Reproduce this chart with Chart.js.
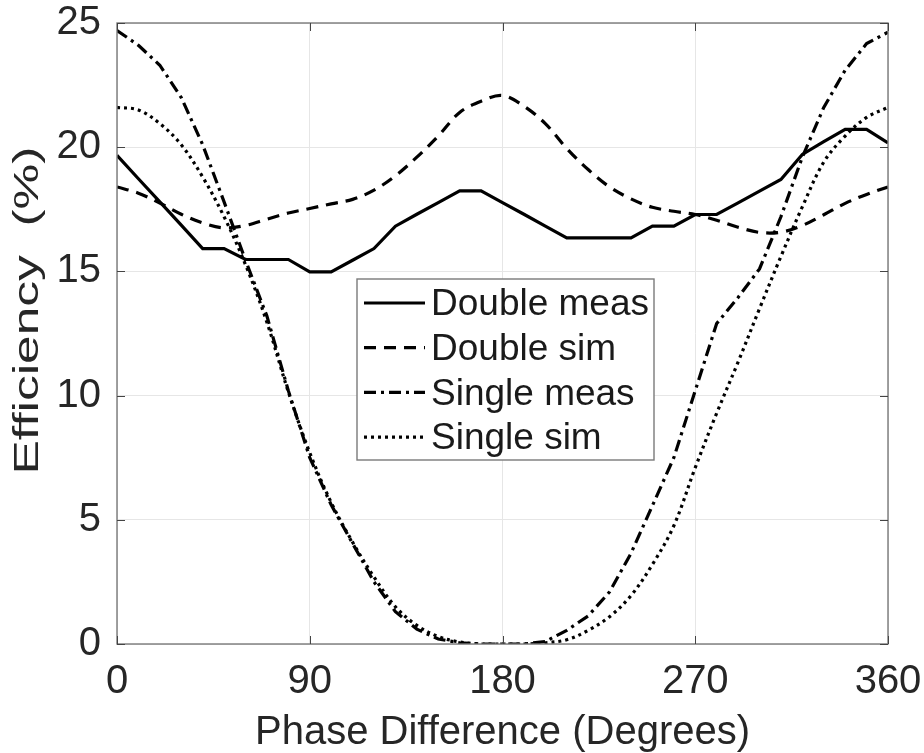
<!DOCTYPE html>
<html>
<head>
<meta charset="utf-8">
<script src="https://cdn.jsdelivr.net/npm/chart.js@4/dist/chart.umd.min.js"></script>
<style>
  html, body { margin: 0; padding: 0; background: #ffffff; }
  #wrap { width: 924px; height: 753px; }
</style>
</head>
<body>
<div id="wrap"><canvas id="c" width="924" height="753"></canvas></div>
<script>
const phase = [0,10,20,30,40,50,60,70,80,90,100,110,120,130,140,150,160,170,180,190,200,210,220,230,240,250,260,270,280,290,300,310,320,330,340,350,360];
const doubleMeas = [19.67,18.73,17.8,16.86,15.92,15.92,15.48,15.48,15.48,14.98,14.98,15.45,15.92,16.82,17.3,17.77,18.24,18.24,17.77,17.3,16.82,16.35,16.35,16.35,16.35,16.82,16.82,17.29,17.29,17.76,18.23,18.7,19.71,20.22,20.72,20.72,20.17];
const doubleSim = [18.4,18.15,17.75,17.3,16.95,16.75,16.85,17.1,17.35,17.53,17.72,17.9,18.27,18.85,19.6,20.45,21.4,21.85,22.08,21.65,20.95,19.95,19.1,18.4,17.92,17.58,17.42,17.29,17.06,16.78,16.57,16.58,16.85,17.28,17.74,18.1,18.4];
const singleMeas = [24.7,24.1,23.3,22.0,20.1,17.8,15.45,13.2,10.2,7.5,5.6,4.05,2.5,1.3,0.6,0.2,0.05,0,0,0,0.1,0.55,1.13,2.1,3.65,5.57,7.5,10.2,12.9,13.95,15.1,17.2,19.6,21.6,23.1,24.17,24.63];
const singleSim = [21.6,21.5,20.95,20.1,18.8,17.2,15.27,12.95,10.15,7.7,5.7,4.1,2.7,1.5,0.75,0.3,0.08,0,0,0,0.05,0.17,0.55,1.1,1.95,3.2,4.76,7.1,9.29,11.35,13.5,15.6,17.6,19.4,20.45,21.2,21.6];
const seriesNames = ["Double meas","Double sim","Single meas","Single sim"];
const xTicks = [0,90,180,270,360];
const yTicks = [0,5,10,15,20,25];
const xTitle = "Phase Difference (Degrees)";
const yTitle = "Efficiency  (%)";

const FONT = '"Liberation Sans", Arial, Helvetica, sans-serif';
const TXT = '#262626';

function pts(ys){ return phase.map((x,i)=>({x:x,y:ys[i]})); }

const styles = [
  {dash: [], tension: 0},
  {dash: [12, 8], tension: 0.35},
  {dash: [12, 5, 3, 5], tension: 0},
  {dash: [3, 4], tension: 0.35}
];
const allSeries = [doubleMeas, doubleSim, singleMeas, singleSim];

const datasets = allSeries.map((s,i)=>({
  label: seriesNames[i],
  data: pts(s),
  borderColor: '#000000',
  backgroundColor: '#000000',
  borderWidth: 3.2,
  borderDash: styles[i].dash,
  tension: styles[i].tension,
  pointRadius: 0,
  fill: false,
  order: 4 - i
}));

const framePlugin = {
  id: 'frame',
  afterDatasetsDraw(chart){
    const ctx = chart.ctx, a = chart.chartArea;
    const xs = chart.scales.x, ys = chart.scales.y;
    ctx.save();
    ctx.strokeStyle = '#7a7a7a';
    ctx.lineWidth = 1.4;
    ctx.setLineDash([]);
    ctx.strokeRect(a.left, a.top, a.right - a.left, a.bottom - a.top);
    ctx.strokeStyle = '#444444';
    ctx.lineWidth = 1;
    const tl = 8;
    xTicks.forEach(v=>{
      const px = Math.round(xs.getPixelForValue(v)) + 0.5;
      ctx.beginPath();
      ctx.moveTo(px, a.bottom); ctx.lineTo(px, a.bottom - tl);
      ctx.moveTo(px, a.top); ctx.lineTo(px, a.top + tl);
      ctx.stroke();
    });
    yTicks.forEach(v=>{
      const py = Math.round(ys.getPixelForValue(v)) + 0.5;
      ctx.beginPath();
      ctx.moveTo(a.left, py); ctx.lineTo(a.left + tl, py);
      ctx.moveTo(a.right, py); ctx.lineTo(a.right - tl, py);
      ctx.stroke();
    });
    ctx.restore();
  },
  afterDraw(chart){
    const ctx = chart.ctx, a = chart.chartArea;
    // legend
    const bx = a.left + 240, by = a.top + 256, bw = 297, bh = 181;
    ctx.save();
    ctx.fillStyle = '#ffffff';
    ctx.fillRect(bx, by, bw, bh);
    ctx.strokeStyle = '#7a7a7a';
    ctx.lineWidth = 1.4;
    ctx.strokeRect(bx, by, bw, bh);
    ctx.font = '37px ' + FONT;
    ctx.textBaseline = 'middle';
    ctx.textAlign = 'left';
    chart.data.datasets.forEach((ds,i)=>{
      const cy = by + 24 + i * 44.7;
      ctx.strokeStyle = '#000000';
      ctx.lineWidth = 3.2;
      ctx.setLineDash(ds.borderDash);
      ctx.beginPath();
      ctx.moveTo(bx + 7, cy); ctx.lineTo(bx + 68, cy);
      ctx.stroke();
      ctx.setLineDash([]);
      ctx.fillStyle = '#1a1a1a';
      ctx.fillText(ds.label, bx + 74, cy + 2);
    });
    ctx.restore();
    // y axis title (stretched along its length, as in the reference)
    ctx.save();
    ctx.translate(38, (a.top + a.bottom) / 2 - 23);
    ctx.rotate(-Math.PI / 2);
    ctx.scale(1.45, 1);
    ctx.font = '35.5px ' + FONT;
    ctx.fillStyle = TXT;
    ctx.textAlign = 'center';
    ctx.textBaseline = 'alphabetic';
    ctx.fillText(yTitle, 0, 0);
    ctx.restore();
  }
};

new Chart(document.getElementById('c'), {
  type: 'line',
  data: { datasets: datasets },
  options: {
    responsive: false,
    animation: false,
    devicePixelRatio: 1,
    layout: { padding: { top: 23, right: 36, left: 0, bottom: 0 } },
    plugins: { legend: { display: false }, tooltip: { enabled: false } },
    scales: {
      x: {
        type: 'linear', min: 0, max: 360,
        afterBuildTicks(scale){ scale.ticks = xTicks.map(v=>({value:v})); },
        afterFit(scale){ scale.height = 109; scale.paddingRight = 0; },
        grid: { color: '#e6e6e6', lineWidth: 1, drawTicks: false },
        border: { display: false },
        ticks: { font: { family: FONT, size: 40 }, color: TXT, padding: 14, maxRotation: 0, autoSkip: false },
        title: { display: true, text: xTitle, font: { family: FONT, size: 40, lineHeight: 1 }, color: TXT, padding: { top: 0, bottom: 0 } }
      },
      y: {
        type: 'linear', min: 0, max: 25,
        afterBuildTicks(scale){ scale.ticks = yTicks.map(v=>({value:v})); },
        afterFit(scale){ scale.width = 117; scale.paddingTop = 0; scale.paddingBottom = 0; },
        grid: { color: '#e6e6e6', lineWidth: 1, drawTicks: false },
        border: { display: false },
        ticks: { font: { family: FONT, size: 40 }, color: TXT, padding: 16 },
        title: { display: false, text: yTitle }
      }
    }
  },
  plugins: [framePlugin]
});
</script>
</body>
</html>
